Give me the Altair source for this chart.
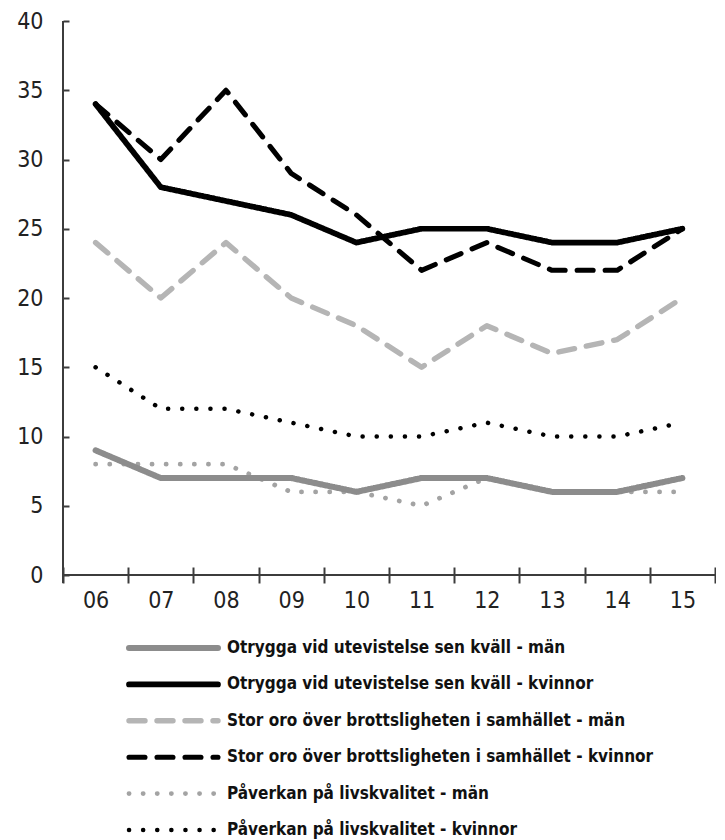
import altair as alt
import pandas as pd

years = ["06", "07", "08", "09", "10", "11", "12", "13", "14", "15"]
names = [
    "Otrygga vid utevistelse sen kväll - män",
    "Otrygga vid utevistelse sen kväll - kvinnor",
    "Stor oro över brottsligheten i samhället - män",
    "Stor oro över brottsligheten i samhället - kvinnor",
    "Påverkan på livskvalitet - män",
    "Påverkan på livskvalitet - kvinnor",
]
otrygga_man = [9, 7, 7, 7, 6, 7, 7, 6, 6, 7]
otrygga_kvinnor = [34, 28, 27, 26, 24, 25, 25, 24, 24, 25]
oro_man = [24, 20, 24, 20, 18, 15, 18, 16, 17, 20]
oro_kvinnor = [34, 30, 35, 29, 26, 22, 24, 22, 22, 25]
paverkan_man = [8, 8, 8, 6, 6, 5, 7, 6, 6, 6]
paverkan_kvinnor = [15, 12, 12, 11, 10, 10, 11, 10, 10, 11]
y_ticks = [0, 5, 10, 15, 20, 25, 30, 35, 40]

colors = ["#8c8c8c", "#000000", "#b5b5b5", "#000000", "#a3a3a3", "#000000"]
dashes = [[1, 0], [1, 0], [16, 12], [16, 12], [0.1, 14], [0.1, 14]]
widths = [6, 4.5, 4.5, 4.5, 5, 6]

series_values = [otrygga_man, otrygga_kvinnor, oro_man, oro_kvinnor, paverkan_man, paverkan_kvinnor]
draw_order = [4, 0, 2, 5, 3, 1]
rows = []
for k, idx in enumerate(draw_order):
    for yr, v in zip(years, series_values[idx]):
        rows.append({"series": names[idx], "year": yr, "value": v, "o": k})
df = pd.DataFrame(rows)

FONT = "'Liberation Sans Narrow', 'DejaVu Sans Condensed', sans-serif"
AX = "#3c3c3c"
W, H = 652, 554

color_s = alt.Scale(domain=names, range=colors)
dash_s = alt.Scale(domain=names, range=dashes)
width_s = alt.Scale(domain=names, range=widths)

x_enc = alt.X(
    "year:O",
    scale=alt.Scale(type="band", domain=years, paddingInner=0, paddingOuter=0),
    bandPosition=0.5,
    axis=alt.Axis(
        title=None, domain=False, tickBand="extent", tickSize=16, offset=-8,
        tickColor=AX, tickWidth=2, labelFont=FONT, labelFontSize=23,
        labelColor="#222222", labelPadding=6, labelAngle=0, grid=False,
    ),
)
y_axis = alt.Axis(
    title=None, domain=False, values=y_ticks, tickSize=6, offset=-6,
    tickColor=AX, tickWidth=2, labelFont=FONT, labelFontSize=23,
    labelColor="#222222", labelPadding=20, grid=False,
)

lines = alt.Chart(df).mark_line(strokeCap="round", strokeJoin="round").encode(
    x=x_enc,
    y=alt.Y("value:Q", scale=alt.Scale(domain=[0, 40], nice=False), axis=y_axis),
    color=alt.Color("series:N", scale=color_s, legend=None),
    strokeDash=alt.StrokeDash("series:N", scale=dash_s, legend=None),
    strokeWidth=alt.StrokeWidth("series:N", scale=width_s, legend=None),
    detail="o:O",
)

zero = pd.DataFrame({"value": [0]})
x_line = alt.Chart(zero).mark_rule(color=AX, strokeWidth=2).encode(
    y=alt.Y("value:Q", axis=y_axis), x=alt.value(0), x2=alt.value(W)
)
y_line = alt.Chart(zero).mark_rule(color=AX, strokeWidth=2).encode(
    x=alt.value(0), y=alt.value(0), y2=alt.value(H + 8)
)

main = alt.layer(lines, x_line, y_line).properties(width=W, height=H)

leg_df = pd.DataFrame([{"series": n, "pos": p} for n in names for p in (0, 1)])
leg_x = alt.X("pos:Q", scale=alt.Scale(domain=[0, 1], range=[66, 155]), axis=None)
leg_y = alt.Y("series:N", scale=alt.Scale(type="point", domain=names, padding=0), axis=None)
leg_lines = alt.Chart(leg_df).mark_line(strokeCap="round").encode(
    x=leg_x, y=leg_y,
    color=alt.Color("series:N", scale=color_s, legend=None),
    strokeDash=alt.StrokeDash("series:N", scale=dash_s, legend=None),
    strokeWidth=alt.StrokeWidth("series:N", scale=width_s, legend=None),
    detail="series:N",
)
leg_text = alt.Chart(pd.DataFrame({"series": names, "pos": [1] * len(names)})).mark_text(
    align="left", baseline="middle", dx=9, font=FONT, fontSize=17, fontWeight="bold", color="#111111"
).encode(x=leg_x, y=leg_y, text="series:N")
legend = alt.layer(leg_lines, leg_text).properties(width=W, height=182)

chart = alt.vconcat(main, legend, spacing=24).resolve_scale(
    x="independent", y="independent"
).properties(
    padding={"left": 8, "top": 2, "right": 0, "bottom": 0}
).configure_view(stroke=None)

chart.save("out.html", embed_options={"renderer": "svg", "actions": False})
